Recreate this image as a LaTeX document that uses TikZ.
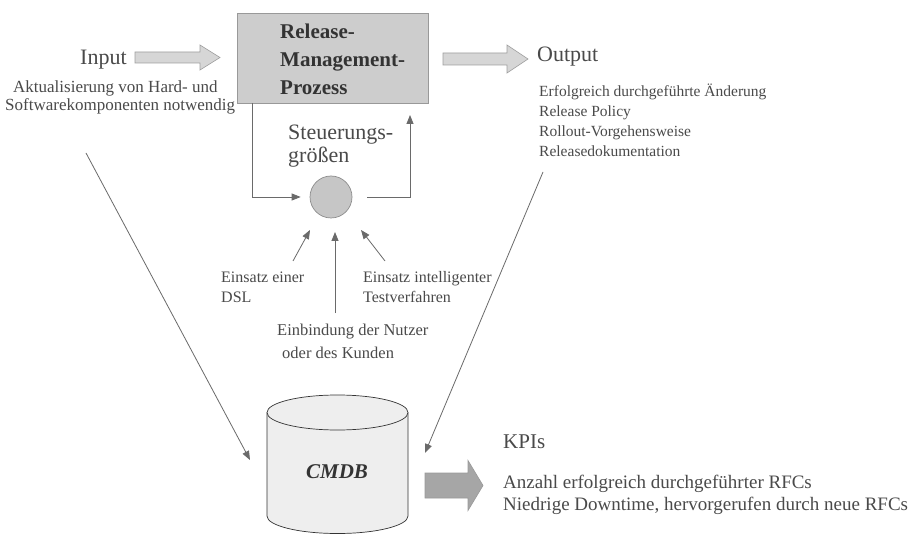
\documentclass[tikz,border=0pt]{standalone}
\usepackage{fontspec}
\setmainfont{Liberation Serif}
\usetikzlibrary{arrows.meta}

\definecolor{txtgray}{HTML}{4A4A4A}
\definecolor{darktxt}{HTML}{333333}
\definecolor{linegray}{HTML}{6A6A6A}
\definecolor{procfill}{HTML}{CDCDCD}
\definecolor{arrowfill}{HTML}{D6D6D6}
\definecolor{kpifill}{HTML}{A6A6A6}
\definecolor{circfill}{HTML}{C6C6C6}
\definecolor{cylfill}{HTML}{EEEEEE}

\newcommand\fsz[1]{\fontsize{#1}{#1}\selectfont}
% block arrow: style, x start, x tip, y centre, half body, half head, head length
\newcommand\blockarrow[7]{%
  \draw[#1] (#2,{#4-#5}) -- ({#3-#7},{#4-#5}) -- ({#3-#7},{#4-#6}) -- (#3,#4)
    -- ({#3-#7},{#4+#6}) -- ({#3-#7},{#4+#5}) -- (#2,{#4+#5}) -- cycle;}

\begin{document}
\begin{tikzpicture}[x=1pt,y=-1pt,
  lbl/.style={text=txtgray, inner sep=0pt, anchor=base west},
  conn/.style={draw=linegray, line width=0.8pt, -{Triangle[length=9pt,width=7pt]}},
  procbox/.style={draw=gray!80, fill=procfill, line width=0.8pt},
  flowarrow/.style={draw=gray!75, fill=arrowfill, line width=0.6pt},
  kpiarrow/.style={draw=gray!80, fill=kpifill, line width=0.6pt}]

\fill[white] (0,0) rectangle (920,534);

% release management process
\node[procbox, minimum width=191pt, minimum height=90pt, inner sep=0pt] (proc) at (332.5,58) {};
\node[lbl, text=darktxt, font=\bfseries\fsz{21}] (r1) at (280,39) {Release-};
\node[lbl, text=darktxt, font=\bfseries\fsz{21}] (r2) at (280,67) {Management-};
\node[lbl, text=darktxt, font=\bfseries\fsz{21}] (r3) at (280,95) {Prozess};

% input
\blockarrow{flowarrow}{135}{220}{57.5}{5.5}{12.5}{20}
\node[lbl, font=\fsz{22}] (inp) at (80,65) {Input};
\node[lbl, font=\fsz{17}] (inp1) at (13,93) {Aktualisierung von Hard- und};
\node[lbl, font=\fsz{17}] (inp2) at (5,111) {Softwarekomponenten notwendig};

% output
\blockarrow{flowarrow}{443}{528}{59}{6}{14}{21}
\node[lbl, font=\fsz{22}] (out) at (537,62) {Output};
\node[lbl, font=\fsz{15.5}] (o1) at (539,97) {Erfolgreich durchgeführte Änderung};
\node[lbl, font=\fsz{15.5}] (o2) at (539,117) {Release Policy};
\node[lbl, font=\fsz{15.5}] (o3) at (539,137) {Rollout-Vorgehensweise};
\node[lbl, font=\fsz{15.5}] (o4) at (539,157) {Releasedokumentation};

% control loop
\node[lbl, font=\fsz{22}] (st1) at (288,140) {Steuerungs-};
\node[lbl, font=\fsz{22}] (st2) at (288,163) {größen};
\node[circle, draw=gray!90, fill=circfill, line width=0.7pt, minimum size=42pt, inner sep=0pt] (circ) at (331,197) {};
\coordinate (loopL) at (252,103);
\coordinate (loopR) at (410,115);
\draw[conn, shorten >=9pt] (loopL) |- (circ.west);
\draw[conn, shorten <=15pt] (circ.east) -| (loopR);

% influences on the control variables
\node[lbl, font=\fsz{16}] (dsl1) at (221,283) {Einsatz einer};
\node[lbl, font=\fsz{16}] (dsl2) at (221,302) {DSL};
\node[lbl, font=\fsz{16}] (tst1) at (363,283) {Einsatz intelligenter};
\node[lbl, font=\fsz{16}] (tst2) at (363,302) {Testverfahren};
\node[lbl, font=\fsz{16.5}] (kd1) at (277,335) {Einbindung der Nutzer};
\node[lbl, font=\fsz{16.5}] (kd2) at (282,358) {oder des Kunden};
\coordinate (dslT) at (293,261);
\coordinate (dslH) at (310,230);
\coordinate (kdT) at (335,313);
\coordinate (kdH) at (335,232);
\coordinate (tstT) at (385,261);
\coordinate (tstH) at (361,230);
\draw[conn] (dslT) -- (dslH);
\draw[conn] (kdT) -- (kdH);
\draw[conn] (tstT) -- (tstH);

% CMDB cylinder
\fill[cylfill] (267,412.5) -- (267,516) arc[start angle=180, end angle=360, x radius=70.5pt, y radius=17.5pt] -- (408,412.5) -- cycle;
\draw[darktxt, line width=0.7pt] (267,412.5) -- (267,516) arc[start angle=180, end angle=360, x radius=70.5pt, y radius=17.5pt] -- (408,412.5);
\draw[darktxt, fill=cylfill, line width=0.7pt] (337.5,412.5) ellipse[x radius=70.5pt, y radius=17.5pt];
\node[text=darktxt, font=\bfseries\itshape\fsz{21}, inner sep=0pt] (cmdb) at (337,472) {CMDB};

% flows into the CMDB
\coordinate (inpT) at (86,153);
\coordinate (inpH) at (250,460);
\coordinate (outT) at (543,172);
\coordinate (outH) at (425,453);
\draw[conn] (inpT) -- (inpH);
\draw[conn] (outT) -- (outH);

% KPIs
\blockarrow{kpiarrow}{425}{483}{485.5}{12.5}{25}{15}
\node[lbl, font=\fsz{21}] (kpi) at (503,448) {KPIs};
\node[lbl, font=\fsz{19}] (k1) at (503,488) {Anzahl erfolgreich durchgeführter RFCs};
\node[lbl, font=\fsz{19}] (k2) at (503,510) {Niedrige Downtime, hervorgerufen durch neue RFCs};

\useasboundingbox (0,0) rectangle (920,534);
\end{tikzpicture}
\end{document}
